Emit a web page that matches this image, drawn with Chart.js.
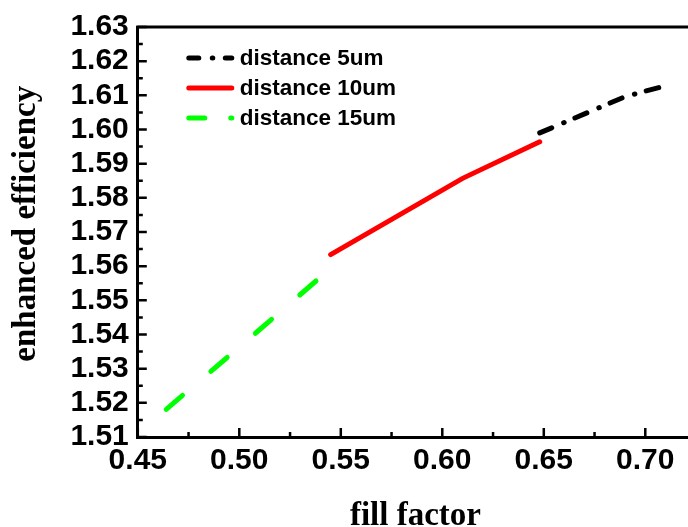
<!DOCTYPE html>
<html>
<head>
<meta charset="utf-8">
<script src="https://cdn.jsdelivr.net/npm/chart.js@4.4.1/dist/chart.umd.min.js"></script>
<style>
  html, body { margin: 0; padding: 0; background: #fff; overflow: hidden; }
  #wrap { width: 694px; height: 527px; }
</style>
</head>
<body>
<div id="wrap"><canvas id="chart" width="694" height="527"></canvas></div>
<script>
// data
const seriesNames = ['distance 5um', 'distance 10um', 'distance 15um'];
const fill5   = [0.648, 0.690, 0.708];
const eff5    = [1.5990, 1.6096, 1.6125];
const fill10  = [0.545, 0.610, 0.648];
const eff10   = [1.5634, 1.5857, 1.5964];
const fill15  = [0.464, 0.500, 0.540];
const eff15   = [1.5181, 1.5363, 1.5568];
const xTicks  = [0.45, 0.50, 0.55, 0.60, 0.65, 0.70];
const yTicks  = [1.51, 1.52, 1.53, 1.54, 1.55, 1.56, 1.57, 1.58, 1.59, 1.60, 1.61, 1.62, 1.63];

const pts = (xs, ys) => xs.map((x, i) => ({ x: x, y: ys[i] }));

const tickFont = { family: '"Liberation Sans", Arial, sans-serif', size: 30, weight: 'bold' };
const titleFont = { family: '"Liberation Serif", "Times New Roman", serif', size: 33, weight: 'bold', lineHeight: 0.8 };

// frame on top/right + inward major/minor ticks
const frame = {
  id: 'frame',
  afterDraw(chart) {
    const { ctx, chartArea: a, scales: { x, y } } = chart;
    ctx.save();
    ctx.strokeStyle = '#000';
    ctx.lineWidth = 3;
    ctx.beginPath();
    ctx.moveTo(a.left - 1.5, a.top);
    ctx.lineTo(a.right, a.top);
    ctx.lineTo(a.right, a.bottom);
    ctx.stroke();
    ctx.lineWidth = 2.5;
    ctx.beginPath();
    xTicks.forEach(v => {
      const px = x.getPixelForValue(v);
      ctx.moveTo(px, a.bottom); ctx.lineTo(px, a.bottom - 9);
      const pm = x.getPixelForValue(v + 0.025);
      if (pm < a.right) { ctx.moveTo(pm, a.bottom); ctx.lineTo(pm, a.bottom - 5); }
    });
    yTicks.forEach(v => {
      const py = y.getPixelForValue(v);
      ctx.moveTo(a.left, py); ctx.lineTo(a.left + 9, py);
      const pm = y.getPixelForValue(v + 0.005);
      if (pm > a.top) { ctx.moveTo(a.left, pm); ctx.lineTo(a.left + 5, pm); }
    });
    ctx.stroke();
    ctx.restore();
  }
};

// legend inside the plot, top-left
const legendBox = {
  id: 'legendBox',
  afterDatasetsDraw(chart) {
    const { ctx, chartArea: a } = chart;
    chart.data.datasets.forEach((ds, i) => {
      const y = a.top + 31 + i * 30;
      ctx.save();
      ctx.strokeStyle = ds.borderColor;
      ctx.lineWidth = ds.borderWidth;
      ctx.lineCap = 'round';
      ctx.setLineDash(ds.legendDash || []);
      ctx.beginPath();
      ctx.moveTo(a.left + 51, y);
      ctx.lineTo(a.left + 94, y);
      ctx.stroke();
      ctx.setLineDash([]);
      ctx.fillStyle = '#000';
      ctx.font = 'bold 22.5px "Liberation Sans", Arial, sans-serif';
      ctx.textBaseline = 'middle';
      ctx.fillText(ds.label, a.left + 102, y + 1);
      ctx.restore();
    });
  }
};

new Chart(document.getElementById('chart'), {
  type: 'line',
  data: {
    datasets: [
      {
        label: seriesNames[0],
        data: pts(fill5, eff5),
        borderColor: '#000000',
        borderWidth: 5,
        borderDash: [13, 13, 0.5, 11.7],
        legendDash: [10, 13.5, 0.5, 12.5],
        borderCapStyle: 'round',
        pointRadius: 0,
        tension: 0
      },
      {
        label: seriesNames[1],
        data: pts(fill10, eff10),
        borderColor: '#ff0000',
        borderWidth: 5,
        borderCapStyle: 'round',
        pointRadius: 0,
        tension: 0
      },
      {
        label: seriesNames[2],
        data: pts(fill15, eff15),
        borderColor: '#00ff00',
        borderWidth: 5,
        borderDash: [21.4, 37.2],
        legendDash: [16, 26],
        borderCapStyle: 'round',
        pointRadius: 0,
        tension: 0
      }
    ]
  },
  options: {
    responsive: false,
    animation: false,
    layout: { padding: { top: 26, right: 1, left: 0, bottom: 0 } },
    plugins: { legend: { display: false }, tooltip: { enabled: false } },
    scales: {
      x: {
        type: 'linear',
        min: 0.45,
        max: 0.7235,
        afterFit: s => { s.height = 90; },
        afterBuildTicks: s => { s.ticks = xTicks.map(v => ({ value: v })); },
        grid: { drawOnChartArea: false, drawTicks: false },
        border: { display: true, color: '#000', width: 3 },
        ticks: {
          color: '#000',
          font: tickFont,
          padding: 6,
          maxRotation: 0,
          autoSkip: false,
          callback: v => v.toFixed(2)
        },
        title: { display: true, text: 'fill factor', color: '#000', font: { ...titleFont, lineHeight: 0.62 }, padding: 0 }
      },
      y: {
        type: 'linear',
        min: 1.51,
        max: 1.63,
        afterFit: s => { s.width = 137.8; },
        afterBuildTicks: s => { s.ticks = yTicks.map(v => ({ value: v })); },
        grid: { drawOnChartArea: false, drawTicks: false },
        border: { display: true, color: '#000', width: 3 },
        ticks: {
          color: '#000',
          font: tickFont,
          padding: 9,
          autoSkip: false,
          callback: v => v.toFixed(2)
        },
        title: { display: true, text: '  enhanced efficiency', color: '#000', font: titleFont, padding: { top: 13, bottom: 0 } }
      }
    }
  },
  plugins: [frame, legendBox]
});
</script>
</body>
</html>
